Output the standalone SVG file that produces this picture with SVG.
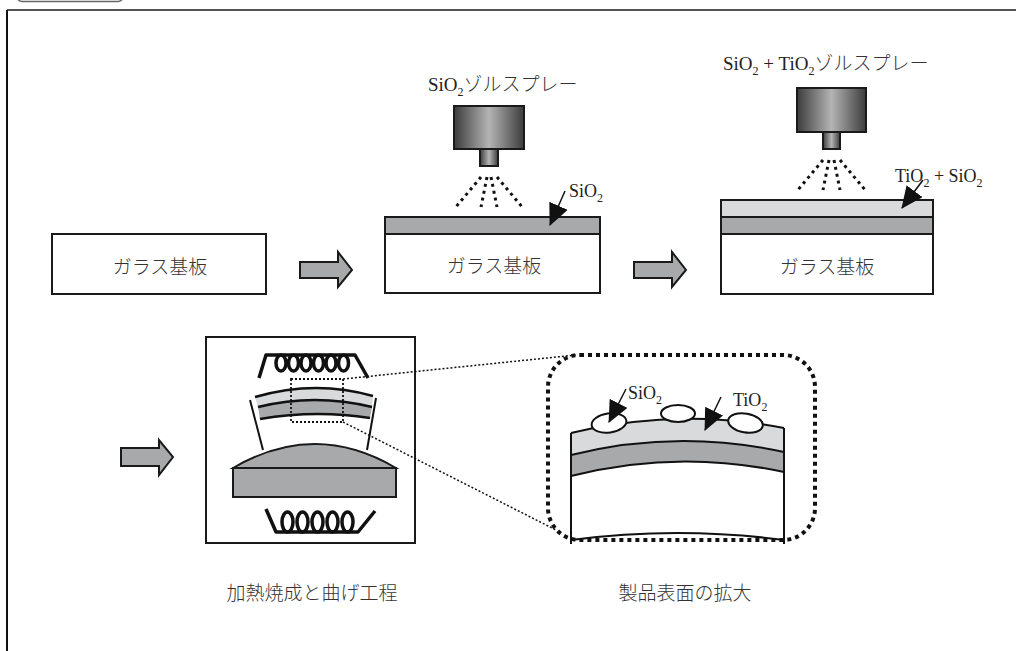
<svg xmlns="http://www.w3.org/2000/svg" width="1016" height="651" viewBox="0 0 1016 651">
  <defs>
    <linearGradient id="metal" x1="0" y1="0" x2="1" y2="0">
      <stop offset="0" stop-color="#3c3c3c"/>
      <stop offset="0.5" stop-color="#b4b4b4"/>
      <stop offset="1" stop-color="#3c3c3c"/>
    </linearGradient>
    <marker id="head" markerUnits="userSpaceOnUse" viewBox="0 0 22 20" markerWidth="22" markerHeight="20" refX="21" refY="10" orient="auto">
      <path d="M0,0 L22,10 L0,20 Z" fill="#111"/>
    </marker>
    <style>
      .jp { font-family: "Liberation Serif", "Noto Sans CJK JP", serif; font-size: 19px; font-weight: 300; fill: #333; }
      .lat { font-family: "Liberation Serif", serif; font-weight: 400; fill: #222; }
      .lbl { font-family: "Liberation Serif", "Noto Sans CJK JP", serif; font-size: 18px; fill: #222; }
      .sub { font-size: 12px; }
      .box { fill: #fff; stroke: #1a1a1a; stroke-width: 2; }
      .dark { fill: #a7a9ab; stroke: #1a1a1a; stroke-width: 2; }
      .light { fill: #d9dadb; stroke: #1a1a1a; stroke-width: 2; }
      .flow { fill: #a7a9ab; stroke: #1a1a1a; stroke-width: 2; stroke-linejoin: miter; }
      .body { fill: url(#metal); stroke: #1a1a1a; stroke-width: 2; }
      .spray { stroke: #111; stroke-width: 3; stroke-dasharray: 3 4; fill: none; }
      .ptr { stroke: #111; stroke-width: 1.5; fill: none; marker-end: url(#head); }
      .coil { stroke: #111; stroke-width: 3.5; fill: none; stroke-linejoin: round; }
      .wire { stroke: #111; stroke-width: 2; fill: none; }
    </style>
  </defs>

  <rect width="1016" height="651" fill="#fff"/>

  <!-- frame -->
  <g id="frame">
    <rect x="17" y="-12" width="106" height="13.5" rx="5" fill="none" stroke="#666" stroke-width="1.5"/>
    <line x1="7" y1="10" x2="1016" y2="10" stroke="#555" stroke-width="2"/>
    <line x1="7" y1="10" x2="7" y2="651" stroke="#111" stroke-width="2"/>
  </g>

  <!-- step 1: bare glass -->
  <g id="glass1">
    <rect class="box" x="52" y="234" width="214" height="60"/>
    <text class="jp" x="160" y="274" text-anchor="middle">ガラス基板</text>
  </g>

  <!-- step 2: SiO2 sol spray -->
  <g id="glass2">
    <rect class="box" x="385" y="234" width="215" height="59"/>
    <rect class="dark" x="385" y="217" width="215" height="17"/>
    <text class="jp" x="494" y="273" text-anchor="middle">ガラス基板</text>
  </g>
  <g id="spray1">
    <text class="jp" x="428" y="91"><tspan class="lat">SiO</tspan><tspan class="lat sub" dy="5">2</tspan><tspan dy="-5">ゾルスプレー</tspan></text>
    <rect class="body" x="454" y="106" width="70" height="43"/>
    <rect class="body" x="480" y="149" width="18" height="17"/>
    <line class="spray" x1="481" y1="177" x2="455" y2="208"/>
    <line class="spray" x1="487" y1="177" x2="481" y2="207"/>
    <line class="spray" x1="491" y1="177" x2="497" y2="207"/>
    <line class="spray" x1="497" y1="177" x2="523" y2="208"/>
  </g>
  <g id="label-sio2">
    <text class="lbl" x="569" y="197">SiO<tspan class="sub" dy="5">2</tspan></text>
  </g>

  <!-- step 3: SiO2 + TiO2 sol spray -->
  <g id="glass3">
    <rect class="box" x="721" y="234" width="212" height="60"/>
    <rect class="dark" x="721" y="217" width="212" height="17"/>
    <rect class="light" x="721" y="200" width="212" height="17"/>
    <text class="jp" x="827" y="274" text-anchor="middle">ガラス基板</text>
  </g>
  <g id="spray2">
    <text class="jp" x="723" y="70"><tspan class="lat">SiO</tspan><tspan class="lat sub" dy="5">2</tspan><tspan class="lat" dy="-5"> + TiO</tspan><tspan class="lat sub" dy="5">2</tspan><tspan dy="-5">ゾルスプレー</tspan></text>
    <rect class="body" x="797" y="88" width="69" height="44"/>
    <rect class="body" x="823" y="132" width="17" height="17"/>
    <line class="spray" x1="823" y1="160" x2="797" y2="191"/>
    <line class="spray" x1="829" y1="160" x2="823" y2="190"/>
    <line class="spray" x1="834" y1="160" x2="840" y2="190"/>
    <line class="spray" x1="840" y1="160" x2="866" y2="191"/>
  </g>
  <g id="label-tio2-sio2">
    <text class="lbl" x="895" y="182">TiO<tspan class="sub" dy="5">2</tspan><tspan dy="-5"> + SiO</tspan><tspan class="sub" dy="5">2</tspan></text>
  </g>

  <!-- step 4: firing and bending -->
  <g id="furnace">
    <rect class="box" x="206" y="337" width="209" height="206"/>
    <!-- upper heater coil -->
    <path class="coil" d="M259,378 L266,355 L355,355 L368,378"/>
    <ellipse class="coil" cx="281" cy="363" rx="5" ry="8"/>
    <ellipse class="coil" cx="293.5" cy="363" rx="5" ry="8"/>
    <ellipse class="coil" cx="306" cy="363" rx="5" ry="8"/>
    <ellipse class="coil" cx="318.5" cy="363" rx="5" ry="8"/>
    <ellipse class="coil" cx="331" cy="363" rx="5" ry="8"/>
    <ellipse class="coil" cx="343.5" cy="363" rx="5" ry="8"/>
    <!-- bent coated glass -->
    <path d="M255,397 Q315,379.5 373,396 L372,407 Q315,393 258,407 Z" fill="#d9dadb"/>
    <path d="M258,407 Q315,393 372,407 L370,418 Q315,409.5 260,419 Z" fill="#a7a9ab"/>
    <path d="M255,397 Q315,379.5 373,396" stroke="#111" stroke-width="2.5" fill="none"/>
    <path d="M258,407 Q315,393 372,407" stroke="#111" stroke-width="2.5" fill="none"/>
    <path d="M260,419 Q315,409.5 370,418" stroke="#111" stroke-width="2.5" fill="none"/>
    <line class="wire" x1="250" y1="400" x2="263" y2="450"/>
    <line class="wire" x1="376" y1="398" x2="367" y2="450"/>
    <!-- mould -->
    <path class="dark" d="M233,468 Q315,420 396,468 Z"/>
    <rect class="dark" x="233" y="468" width="163" height="29"/>
    <!-- lower heater coil -->
    <path class="coil" d="M266,509 L276,532 L358,532 L375,511"/>
    <ellipse class="coil" cx="287.5" cy="522" rx="5.5" ry="10"/>
    <ellipse class="coil" cx="302.5" cy="522" rx="5.5" ry="10"/>
    <ellipse class="coil" cx="317.5" cy="522" rx="5.5" ry="10"/>
    <ellipse class="coil" cx="332.5" cy="522" rx="5.5" ry="10"/>
    <ellipse class="coil" cx="347.5" cy="522" rx="5.5" ry="10"/>
    <!-- detail area -->
    <rect x="291" y="379" width="52" height="43" fill="none" stroke="#111" stroke-width="1.8" stroke-dasharray="2 2"/>
    <text class="jp" x="312" y="600" text-anchor="middle">加熱焼成と曲げ工程</text>
  </g>

  <!-- enlarged surface -->
  <g id="detail">
    <path d="M571,433 Q677,407.5 784,428 L784,452 Q677,428.5 571,455 Z" fill="#d9dadb"/>
    <path d="M571,455 Q677,428.5 784,452 L784,472 Q677,449 571,476 Z" fill="#a7a9ab"/>
    <g stroke="#111" stroke-width="2" fill="none">
      <path d="M571,433 Q677,407.5 784,428"/>
      <path d="M571,455 Q677,428.5 784,452"/>
      <path d="M571,476 Q677,449 784,472"/>
      <path d="M571,540 Q677,526 784,540"/>
      <line x1="571" y1="433" x2="571" y2="544"/>
      <line x1="784" y1="428" x2="784" y2="544"/>
    </g>
    <g fill="#fff" stroke="#111" stroke-width="2">
      <ellipse cx="609" cy="423" rx="17.5" ry="9.5" transform="rotate(-8 609 423)"/>
      <ellipse cx="678" cy="413.5" rx="17" ry="8.5"/>
      <ellipse cx="745.5" cy="423" rx="17.5" ry="9.5" transform="rotate(10 745.5 423)"/>
    </g>
    <rect x="548" y="355" width="267" height="185" rx="32" fill="none" stroke="#111" stroke-width="4" stroke-dasharray="4 4"/>
    <text class="lbl" x="628" y="399">SiO<tspan class="sub" dy="5">2</tspan></text>
    <text class="lbl" x="733" y="406">TiO<tspan class="sub" dy="5">2</tspan></text>
    <text class="jp" x="685" y="600" text-anchor="middle">製品表面の拡大</text>
  </g>

  <!-- connectors -->
  <g id="connectors">
    <path class="flow" d="M300,262 L338,262 L338,252 L352,270 L338,287 L338,278 L300,278 Z"/>
    <path class="flow" d="M634,262 L672,262 L672,252 L686,270 L672,287 L672,278 L634,278 Z"/>
    <path class="flow" d="M121,448 L159,448 L159,440 L173,457 L159,475 L159,466 L121,466 Z"/>
    <line class="ptr" x1="565" y1="191" x2="550" y2="225"/>
    <line class="ptr" x1="923" y1="180" x2="902" y2="208"/>
    <line class="ptr" x1="626" y1="389" x2="609" y2="422"/>
    <line class="ptr" x1="721" y1="397" x2="705" y2="430"/>
    <line x1="343" y1="379" x2="576" y2="355" stroke="#111" stroke-width="1.5" stroke-dasharray="2 2"/>
    <line x1="343" y1="422" x2="556" y2="530" stroke="#111" stroke-width="1.5" stroke-dasharray="2 2"/>
  </g>
</svg>
